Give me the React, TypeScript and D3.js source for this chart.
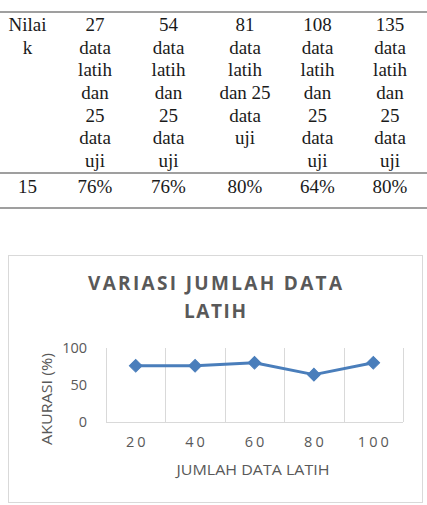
import { useEffect, useRef } from 'react'
import * as d3 from 'd3'

// table
const headerCols = [
  ['Nilai', 'k'],
  ['27', 'data', 'latih', 'dan', '25', 'data', 'uji'],
  ['54', 'data', 'latih', 'dan', '25', 'data', 'uji'],
  ['81', 'data', 'latih', 'dan 25', 'data', 'uji'],
  ['108', 'data', 'latih', 'dan', '25', 'data', 'uji'],
  ['135', 'data', 'latih', 'dan', '25', 'data', 'uji'],
]
const rowValues = ['15', '76%', '76%', '80%', '64%', '80%']

// chart
const categories = ['20', '40', '60', '80', '100']
const accuracy = [76, 76, 80, 64, 80]
const yTicks = [0, 50, 100]
const titleLines = ['VARIASI JUMLAH DATA', 'LATIH']
const xTitle = 'JUMLAH DATA LATIH'
const yTitle = 'AKURASI (%)'

export default function App() {
  const svgRef = useRef<SVGSVGElement>(null)

  useEffect(() => {
    if (!svgRef.current) return
    const svg = d3.select(svgRef.current)
    svg.selectAll('*').remove()

    const width = 427
    const height = 505
    svg.attr('width', width).attr('height', height)

    svg.append('rect').attr('width', width).attr('height', height).style('fill', '#ffffff')

    // ---- table ----
    const colX = d3.scaleOrdinal<number, number>()
      .domain(d3.range(6))
      .range([27.5, 95, 168.5, 245, 317.5, 390])
    const lineY = d3.scaleLinear().domain([0, 6]).range([31, 167])

    const rules = [12, 173, 208]
    svg.selectAll('.rule')
      .data(rules)
      .enter().append('line')
      .attr('x1', 0).attr('x2', width)
      .attr('y1', d => d).attr('y2', d => d)
      .style('stroke', '#7f7f7f')
      .style('stroke-width', 1.6)

    const tbl = svg.append('g')
      .style('font-family', '"Liberation Serif", "Times New Roman", serif')
      .style('font-size', '19px')
      .style('fill', '#1a1a1a')

    headerCols.forEach((lines, ci) => {
      tbl.selectAll(null)
        .data(lines)
        .enter().append('text')
        .attr('x', colX(ci))
        .attr('y', (d, i) => lineY(i))
        .attr('text-anchor', 'middle')
        .text(d => d)
    })

    tbl.selectAll(null)
      .data(rowValues)
      .enter().append('text')
      .attr('x', (d, i) => colX(i))
      .attr('y', 193)
      .attr('text-anchor', 'middle')
      .text(d => d)

    // ---- chart ----
    svg.append('rect')
      .attr('x', 8.5).attr('y', 255.5)
      .attr('width', 414).attr('height', 247)
      .style('fill', '#ffffff')
      .style('stroke', '#d9d9d9')
      .style('stroke-width', 1)

    const ch = svg.append('g')
      .style('font-family', '"Open Sans", sans-serif')
      .style('fill', '#595959')

    ch.selectAll('.title')
      .data(titleLines)
      .enter().append('text')
      .attr('x', 215)
      .attr('y', (d, i) => 290 + i * 28)
      .attr('text-anchor', 'middle')
      .attr('textLength', (d, i) => (i === 0 ? 254 : 62))
      .attr('lengthAdjust', 'spacing')
      .style('font-size', '19px')
      .style('font-weight', 'bold')
      .text(d => d)

    const xScale = d3.scaleBand<string>().domain(categories).range([106, 403]).padding(0)
    const yScale = d3.scaleLinear().domain([0, 100]).range([422, 348])
    const cx = (c: string) => (xScale(c) as number) + xScale.bandwidth() / 2

    // vertical gridlines at band edges
    const edges = categories.map(c => xScale(c) as number).concat([403])
    ch.selectAll('.grid')
      .data(edges)
      .enter().append('line')
      .attr('x1', d => Math.round(d) + 0.5).attr('x2', d => Math.round(d) + 0.5)
      .attr('y1', yScale(100)).attr('y2', yScale(0))
      .style('stroke', '#d9d9d9')
      .style('stroke-width', 1)

    ch.append('line')
      .attr('x1', 106).attr('x2', 403)
      .attr('y1', yScale(0) + 0.5).attr('y2', yScale(0) + 0.5)
      .style('stroke', '#d9d9d9')
      .style('stroke-width', 1)

    // y tick labels
    ch.selectAll('.ytick')
      .data(yTicks)
      .enter().append('text')
      .attr('x', 87)
      .attr('y', d => yScale(d))
      .attr('dy', '0.35em')
      .attr('text-anchor', 'end')
      .style('font-size', '14.5px')
      .text(d => d)

    // x tick labels
    ch.selectAll('.xtick')
      .data(categories)
      .enter().append('text')
      .attr('x', d => cx(d) + 1.5)
      .attr('y', 447)
      .attr('text-anchor', 'middle')
      .style('font-size', '14.5px')
      .style('letter-spacing', '3px')
      .text(d => d)

    ch.append('text')
      .attr('x', 253)
      .attr('y', 475)
      .attr('text-anchor', 'middle')
      .attr('textLength', 153)
      .attr('lengthAdjust', 'spacingAndGlyphs')
      .style('font-size', '15px')
      .text(xTitle)

    ch.append('text')
      .attr('transform', 'translate(47,399) rotate(-90)')
      .attr('dy', '0.35em')
      .attr('text-anchor', 'middle')
      .attr('textLength', 92)
      .attr('lengthAdjust', 'spacingAndGlyphs')
      .style('font-size', '15px')
      .text(yTitle)

    // line + markers
    const line = d3.line<number>()
      .x((d, i) => cx(categories[i]))
      .y(d => yScale(d))

    ch.append('path')
      .datum(accuracy)
      .attr('d', line)
      .style('fill', 'none')
      .style('stroke', '#4a7ebb')
      .style('stroke-width', 3)
      .style('stroke-linejoin', 'round')

    const diamond = d3.symbol().type(d3.symbolSquare).size(80)
    ch.selectAll('.dot')
      .data(accuracy)
      .enter().append('path')
      .attr('d', diamond)
      .attr('transform', (d, i) => `translate(${cx(categories[i])},${yScale(d)}) rotate(45)`)
      .style('fill', '#4a7ebb')
      .style('stroke', '#4a7ebb')
      .style('stroke-width', 1)
  }, [])

  return (
    <svg ref={svgRef} style={{ position: 'absolute', left: 0, top: 0, display: 'block' }}></svg>
  )
}
